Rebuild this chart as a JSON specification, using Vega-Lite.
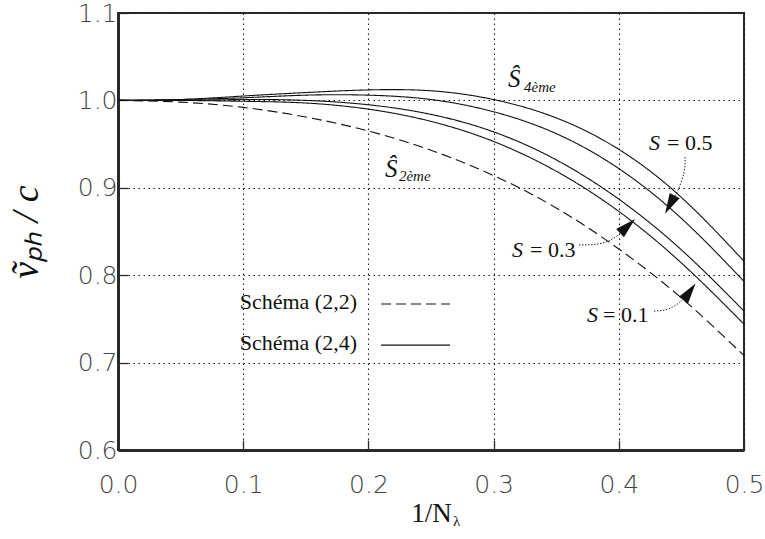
{
  "$schema": "https://vega.github.io/schema/vega-lite/v6.json",
  "width": 626,
  "height": 437,
  "autosize": {"type": "none"},
  "padding": {"left": 118, "top": 13, "right": 21, "bottom": 89},
  "background": "white",
  "config": {
    "view": {"stroke": "#2a2a2a", "strokeWidth": 2},
    "axis": {
      "domain": true,
      "domainColor": "#2a2a2a",
      "domainWidth": 3,
      "grid": true,
      "gridColor": "#1a1a1a",
      "gridDash": [1.5, 3.5],
      "gridWidth": 1.1,
      "ticks": true,
      "tickColor": "#2a2a2a",
      "tickSize": -10,
      "tickWidth": 1.3,
      "labelFont": "DejaVu Sans",
      "labelFontWeight": 200,
      "labelFontSize": 25,
      "labelColor": "#444444",
      "labelFlush": false,
      "labelOverlap": false,
      "labelBound": false,
      "titleColor": "#111111",
      "titleFontWeight": "normal"
    }
  },
  "datasets": {
    "curves": [
      {"curve": "S2eme", "scheme": "Schéma (2,2)", "u": 0.0, "v": 1.000},
      {"curve": "S2eme", "scheme": "Schéma (2,2)", "u": 0.05, "v": 0.998},
      {"curve": "S2eme", "scheme": "Schéma (2,2)", "u": 0.1, "v": 0.992},
      {"curve": "S2eme", "scheme": "Schéma (2,2)", "u": 0.15, "v": 0.981},
      {"curve": "S2eme", "scheme": "Schéma (2,2)", "u": 0.2, "v": 0.965},
      {"curve": "S2eme", "scheme": "Schéma (2,2)", "u": 0.25, "v": 0.943},
      {"curve": "S2eme", "scheme": "Schéma (2,2)", "u": 0.3, "v": 0.914},
      {"curve": "S2eme", "scheme": "Schéma (2,2)", "u": 0.35, "v": 0.877},
      {"curve": "S2eme", "scheme": "Schéma (2,2)", "u": 0.4, "v": 0.830},
      {"curve": "S2eme", "scheme": "Schéma (2,2)", "u": 0.45, "v": 0.774},
      {"curve": "S2eme", "scheme": "Schéma (2,2)", "u": 0.5, "v": 0.708},

      {"curve": "S01", "scheme": "Schéma (2,4)", "u": 0.0, "v": 1.000},
      {"curve": "S01", "scheme": "Schéma (2,4)", "u": 0.05, "v": 1.000},
      {"curve": "S01", "scheme": "Schéma (2,4)", "u": 0.1, "v": 0.999},
      {"curve": "S01", "scheme": "Schéma (2,4)", "u": 0.15, "v": 0.997},
      {"curve": "S01", "scheme": "Schéma (2,4)", "u": 0.2, "v": 0.990},
      {"curve": "S01", "scheme": "Schéma (2,4)", "u": 0.25, "v": 0.976},
      {"curve": "S01", "scheme": "Schéma (2,4)", "u": 0.3, "v": 0.953},
      {"curve": "S01", "scheme": "Schéma (2,4)", "u": 0.35, "v": 0.919},
      {"curve": "S01", "scheme": "Schéma (2,4)", "u": 0.4, "v": 0.873},
      {"curve": "S01", "scheme": "Schéma (2,4)", "u": 0.45, "v": 0.814},
      {"curve": "S01", "scheme": "Schéma (2,4)", "u": 0.5, "v": 0.744},

      {"curve": "S03", "scheme": "Schéma (2,4)", "u": 0.0, "v": 1.000},
      {"curve": "S03", "scheme": "Schéma (2,4)", "u": 0.05, "v": 1.000},
      {"curve": "S03", "scheme": "Schéma (2,4)", "u": 0.1, "v": 1.001},
      {"curve": "S03", "scheme": "Schéma (2,4)", "u": 0.15, "v": 1.000},
      {"curve": "S03", "scheme": "Schéma (2,4)", "u": 0.2, "v": 0.995},
      {"curve": "S03", "scheme": "Schéma (2,4)", "u": 0.25, "v": 0.984},
      {"curve": "S03", "scheme": "Schéma (2,4)", "u": 0.3, "v": 0.964},
      {"curve": "S03", "scheme": "Schéma (2,4)", "u": 0.35, "v": 0.932},
      {"curve": "S03", "scheme": "Schéma (2,4)", "u": 0.4, "v": 0.887},
      {"curve": "S03", "scheme": "Schéma (2,4)", "u": 0.45, "v": 0.829},
      {"curve": "S03", "scheme": "Schéma (2,4)", "u": 0.5, "v": 0.759},

      {"curve": "S05", "scheme": "Schéma (2,4)", "u": 0.0, "v": 1.000},
      {"curve": "S05", "scheme": "Schéma (2,4)", "u": 0.05, "v": 1.001},
      {"curve": "S05", "scheme": "Schéma (2,4)", "u": 0.1, "v": 1.003},
      {"curve": "S05", "scheme": "Schéma (2,4)", "u": 0.15, "v": 1.006},
      {"curve": "S05", "scheme": "Schéma (2,4)", "u": 0.2, "v": 1.006},
      {"curve": "S05", "scheme": "Schéma (2,4)", "u": 0.25, "v": 1.001},
      {"curve": "S05", "scheme": "Schéma (2,4)", "u": 0.3, "v": 0.987},
      {"curve": "S05", "scheme": "Schéma (2,4)", "u": 0.35, "v": 0.962},
      {"curve": "S05", "scheme": "Schéma (2,4)", "u": 0.4, "v": 0.922},
      {"curve": "S05", "scheme": "Schéma (2,4)", "u": 0.45, "v": 0.865},
      {"curve": "S05", "scheme": "Schéma (2,4)", "u": 0.5, "v": 0.793},

      {"curve": "S4eme", "scheme": "Schéma (2,4)", "u": 0.0, "v": 1.000},
      {"curve": "S4eme", "scheme": "Schéma (2,4)", "u": 0.05, "v": 1.001},
      {"curve": "S4eme", "scheme": "Schéma (2,4)", "u": 0.1, "v": 1.005},
      {"curve": "S4eme", "scheme": "Schéma (2,4)", "u": 0.15, "v": 1.009},
      {"curve": "S4eme", "scheme": "Schéma (2,4)", "u": 0.2, "v": 1.012},
      {"curve": "S4eme", "scheme": "Schéma (2,4)", "u": 0.25, "v": 1.011},
      {"curve": "S4eme", "scheme": "Schéma (2,4)", "u": 0.3, "v": 1.001},
      {"curve": "S4eme", "scheme": "Schéma (2,4)", "u": 0.35, "v": 0.980},
      {"curve": "S4eme", "scheme": "Schéma (2,4)", "u": 0.4, "v": 0.944},
      {"curve": "S4eme", "scheme": "Schéma (2,4)", "u": 0.45, "v": 0.889},
      {"curve": "S4eme", "scheme": "Schéma (2,4)", "u": 0.5, "v": 0.816}
    ],
    "key": [
      {"label": "Schéma (2,2)", "scheme": "Schéma (2,2)", "xs": 0.2101, "xe": 0.2652, "xt": 0.1909, "y": 0.767},
      {"label": "Schéma (2,4)", "scheme": "Schéma (2,4)", "xs": 0.2101, "xe": 0.2652, "xt": 0.1909, "y": 0.720}
    ],
    "notes": [
      {"txt": "Ŝ", "kind": "big", "x": 0.3115, "y": 1.0153},
      {"txt": "4ème", "kind": "sub", "x": 0.3243, "y": 1.0096},
      {"txt": "Ŝ", "kind": "big", "x": 0.2133, "y": 0.9124},
      {"txt": "2ème", "kind": "sub", "x": 0.2244, "y": 0.9078},
      {"txt": "S", "kind": "sym", "x": 0.4241, "y": 0.9432},
      {"txt": "= 0.5", "kind": "val", "x": 0.4385, "y": 0.9432},
      {"txt": "S", "kind": "sym", "x": 0.3147, "y": 0.8208},
      {"txt": "= 0.3", "kind": "val", "x": 0.3291, "y": 0.8208},
      {"txt": "S", "kind": "sym", "x": 0.3746, "y": 0.7465},
      {"txt": "= 0.1", "kind": "val", "x": 0.3874, "y": 0.7465}
    ],
    "arrows": [
      {"arrow": "a05", "i": 0, "x": 0.4529, "y": 0.9352},
      {"arrow": "a05", "i": 1, "x": 0.4521, "y": 0.9181},
      {"arrow": "a05", "i": 2, "x": 0.4473, "y": 0.8975},
      {"arrow": "a05", "i": 3, "x": 0.4425, "y": 0.8849},
      {"arrow": "a03", "i": 0, "x": 0.3682, "y": 0.8346},
      {"arrow": "a03", "i": 1, "x": 0.3834, "y": 0.8357},
      {"arrow": "a03", "i": 2, "x": 0.3946, "y": 0.8414},
      {"arrow": "a03", "i": 3, "x": 0.4042, "y": 0.8506},
      {"arrow": "a01", "i": 0, "x": 0.4281, "y": 0.7590},
      {"arrow": "a01", "i": 1, "x": 0.4393, "y": 0.7613},
      {"arrow": "a01", "i": 2, "x": 0.4489, "y": 0.7693},
      {"arrow": "a01", "i": 3, "x": 0.4537, "y": 0.7762}
    ],
    "heads": [
      {"arrow": "a05", "x": 0.4408, "y": 0.8806, "dir": 208},
      {"arrow": "a03", "x": 0.4070, "y": 0.8562, "dir": 47},
      {"arrow": "a01", "x": 0.4565, "y": 0.7810, "dir": 36}
    ]
  },
  "layer": [
    {
      "data": {"name": "curves"},
      "mark": {"type": "line", "interpolate": "natural", "color": "#111111", "strokeWidth": 1.1},
      "encoding": {
        "x": {
          "field": "u",
          "type": "quantitative",
          "scale": {"domain": [0, 0.5], "nice": false},
          "axis": {
            "values": [0, 0.1, 0.2, 0.3, 0.4, 0.5],
            "format": ".1f",
            "labelPadding": 32,
            "title": "1/N",
            "titleFont": "Liberation Serif",
            "titleFontSize": 27,
            "titlePadding": 3
          }
        },
        "y": {
          "field": "v",
          "type": "quantitative",
          "scale": {"domain": [0.6, 1.1], "nice": false, "zero": false},
          "axis": {
            "values": [0.6, 0.7, 0.8, 0.9, 1.0, 1.1],
            "format": ".1f",
            "labelPadding": 11,
            "title": "ṽₚₕ / c",
            "titleFont": "Liberation Serif",
            "titleFontStyle": "italic",
            "titleFontSize": 38,
            "titlePadding": 32
          }
        },
        "detail": {"field": "curve"},
        "strokeDash": {
          "field": "scheme",
          "type": "nominal",
          "scale": {"domain": ["Schéma (2,2)", "Schéma (2,4)"], "range": [[10, 5], [1, 0]]},
          "legend": null
        }
      }
    },
    {
      "data": {"name": "key"},
      "mark": {"type": "rule", "color": "#111111", "strokeWidth": 1.1},
      "encoding": {
        "x": {"field": "xs", "type": "quantitative"},
        "x2": {"field": "xe"},
        "y": {"field": "y", "type": "quantitative"},
        "strokeDash": {"field": "scheme", "type": "nominal", "legend": null}
      }
    },
    {
      "data": {"name": "key"},
      "mark": {"type": "text", "align": "right", "baseline": "middle", "dy": -2, "font": "Liberation Serif", "fontSize": 22, "color": "#111111"},
      "encoding": {
        "x": {"field": "xt", "type": "quantitative"},
        "y": {"field": "y", "type": "quantitative"},
        "text": {"field": "label"}
      }
    },
    {
      "data": {"name": "notes"},
      "transform": [{"filter": "datum.kind === 'big'"}],
      "mark": {"type": "text", "align": "left", "baseline": "alphabetic", "font": "Liberation Serif", "fontStyle": "italic", "fontSize": 25, "color": "#111111"},
      "encoding": {
        "x": {"field": "x", "type": "quantitative"},
        "y": {"field": "y", "type": "quantitative"},
        "text": {"field": "txt"}
      }
    },
    {
      "data": {"name": "notes"},
      "transform": [{"filter": "datum.kind === 'sub'"}],
      "mark": {"type": "text", "align": "left", "baseline": "alphabetic", "font": "Liberation Serif", "fontStyle": "italic", "fontSize": 15, "color": "#111111"},
      "encoding": {
        "x": {"field": "x", "type": "quantitative"},
        "y": {"field": "y", "type": "quantitative"},
        "text": {"field": "txt"}
      }
    },
    {
      "data": {"name": "notes"},
      "transform": [{"filter": "datum.kind === 'sym'"}],
      "mark": {"type": "text", "align": "left", "baseline": "alphabetic", "font": "Liberation Serif", "fontStyle": "italic", "fontSize": 22, "color": "#111111"},
      "encoding": {
        "x": {"field": "x", "type": "quantitative"},
        "y": {"field": "y", "type": "quantitative"},
        "text": {"field": "txt"}
      }
    },
    {
      "data": {"name": "notes"},
      "transform": [{"filter": "datum.kind === 'val'"}],
      "mark": {"type": "text", "align": "left", "baseline": "alphabetic", "font": "Liberation Serif", "fontSize": 22, "color": "#111111"},
      "encoding": {
        "x": {"field": "x", "type": "quantitative"},
        "y": {"field": "y", "type": "quantitative"},
        "text": {"field": "txt"}
      }
    },
    {
      "data": {"name": "arrows"},
      "mark": {"type": "line", "interpolate": "natural", "color": "#222222", "strokeWidth": 1, "strokeDash": [1.5, 1.5]},
      "encoding": {
        "x": {"field": "x", "type": "quantitative"},
        "y": {"field": "y", "type": "quantitative"},
        "detail": {"field": "arrow"},
        "order": {"field": "i", "type": "quantitative"}
      }
    },
    {
      "data": {"name": "heads"},
      "mark": {"type": "point", "shape": "M0,-1L0.55,1L-0.55,1Z", "filled": true, "color": "#111111", "opacity": 1, "size": 420},
      "encoding": {
        "x": {"field": "x", "type": "quantitative"},
        "y": {"field": "y", "type": "quantitative"},
        "angle": {"field": "dir", "type": "quantitative", "scale": null}
      }
    },
    {
      "data": {"values": [{"sym": "λ"}]},
      "mark": {"type": "text", "align": "left", "baseline": "alphabetic", "dx": 22, "dy": 76, "font": "Liberation Serif", "fontSize": 15, "color": "#111111"},
      "encoding": {
        "x": {"datum": 0.25, "type": "quantitative"},
        "y": {"datum": 0.6, "type": "quantitative"},
        "text": {"field": "sym"}
      }
    }
  ]
}
